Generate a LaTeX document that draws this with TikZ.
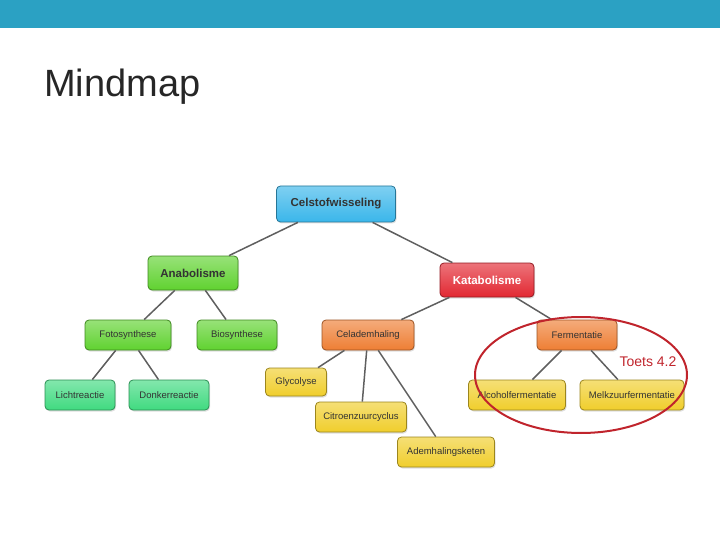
\documentclass[tikz,border=0pt]{standalone}
\usepackage{fontspec}
\setmainfont{Liberation Sans}
\usepackage{xcolor}
\usetikzlibrary{shadows}
\definecolor{barblue}{RGB}{43, 161, 195}
\definecolor{mapblue}{RGB}{58, 182, 234}
\definecolor{mapgreen}{RGB}{96, 210, 48}
\definecolor{mapteal}{RGB}{64, 218, 128}
\definecolor{mapred}{RGB}{226, 40, 50}
\definecolor{maporange}{RGB}{238, 126, 52}
\definecolor{mapyellow}{RGB}{240, 206, 44}
\definecolor{linkgray}{RGB}{95, 95, 95}
\definecolor{markred}{RGB}{192, 36, 44}

\begin{document}
\begin{tikzpicture}[x=1pt, y=-1pt, every node/.style={font=\fontsize{9.5}{11}\selectfont},
    box/.style={rounded corners=4pt, minimum height=30pt, inner sep=2pt, draw=#1!65!black,
        line width=0.8pt, top color=#1!65!white, bottom color=#1, text=black!80,
        drop shadow={opacity=0.25, shadow xshift=1pt, shadow yshift=-1.5pt}},
    mainbox/.style={box=#1, minimum height=34pt, font=\fontsize{11.5}{13}\selectfont\bfseries},
    link/.style={draw=linkgray, line width=1.5pt}]
    % slide frame
    \useasboundingbox (0,0) rectangle (720,540);
    \fill[barblue] (0,0) rectangle (720,28);
    \node[anchor=base west, inner sep=0pt, text=black!85, font=\fontsize{38}{44}\selectfont] (title) at (44,97) {Mindmap};

    % root
    \node[mainbox=mapblue, minimum width=119pt, minimum height=36pt] (cel) at (336,204) {Celstofwisseling};

    % Anabolisme branch
    \node[mainbox=mapgreen, minimum width=90pt] (ana) at (193,273) {Anabolisme};
    \node[box=mapgreen, minimum width=86pt] (foto) at (128,335) {Fotosynthese};
    \node[box=mapgreen, minimum width=80pt] (bio) at (237,335) {Biosynthese};
    \node[box=mapteal, minimum width=70pt] (licht) at (80,395) {Lichtreactie};
    \node[box=mapteal, minimum width=80pt] (donker) at (169,395) {Donkerreactie};

    % Katabolisme branch
    \node[mainbox=mapred, minimum width=94pt, text=white] (kata) at (487,280) {Katabolisme};
    \node[box=maporange, minimum width=92pt] (adem) at (368,335) {Celademhaling};
    \node[box=maporange, minimum width=80pt] (ferm) at (577,335) {Fermentatie};
    \node[box=mapyellow, minimum width=61pt, minimum height=28pt] (glyc) at (296,382) {Glycolyse};
    \node[box=mapyellow, minimum width=91pt] (citr) at (361,417) {Citroenzuurcyclus};
    \node[box=mapyellow, minimum width=97pt] (keten) at (446,452) {Ademhalingsketen};
    \node[box=mapyellow, minimum width=97pt] (alc) at (517,395) {Alcoholfermentatie};
    \node[box=mapyellow, minimum width=104pt] (melk) at (632,395) {Melkzuurfermentatie};

    % Connectors
    \draw[link] (cel) -- (ana);
    \draw[link] (cel) -- (kata);
    \draw[link] (ana) -- (foto);
    \draw[link] (ana) -- (bio);
    \draw[link] (foto) -- (licht);
    \draw[link] (foto) -- (donker);
    \draw[link] (kata) -- (adem);
    \draw[link] (kata) -- (ferm);
    \draw[link] (adem) -- (glyc);
    \draw[link] (adem) -- (citr);
    \draw[link] (adem) -- (keten);
    \draw[link] (ferm) -- (alc);
    \draw[link] (ferm) -- (melk);

    % exam marking
    \draw[markred, line width=2pt] (581,375) ellipse [x radius=106, y radius=58];
    \node[text=markred, font=\fontsize{14}{16}\selectfont] (toets) at (648,362) {Toets 4.2};
\end{tikzpicture}
\end{document}
